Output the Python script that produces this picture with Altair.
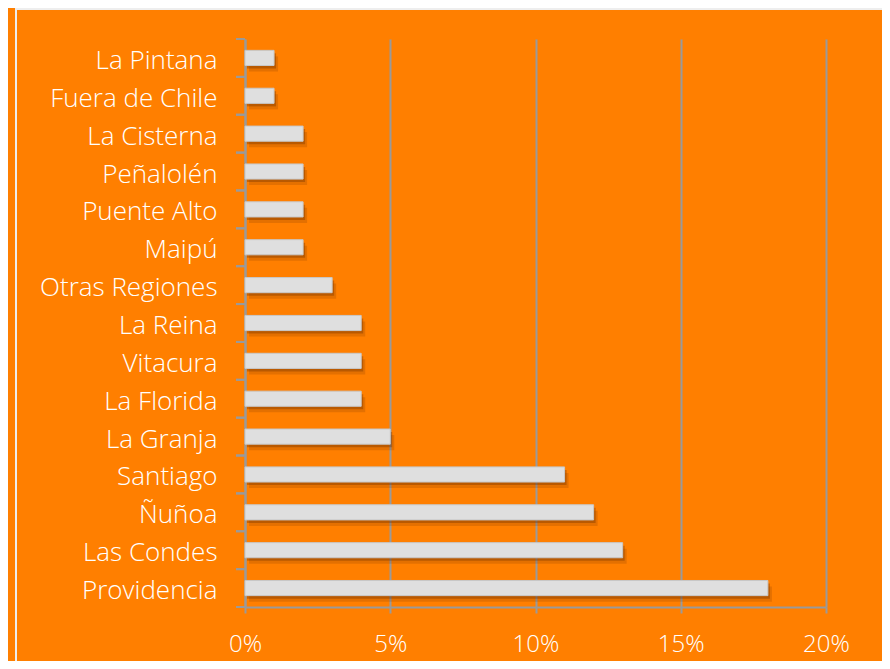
import altair as alt
import pandas as pd

categories = ["La Pintana", "Fuera de Chile", "La Cisterna", "Peñalolén", "Puente Alto",
              "Maipú", "Otras Regiones", "La Reina", "Vitacura", "La Florida",
              "La Granja", "Santiago", "Ñuñoa", "Las Condes", "Providencia"]
values = [1, 1, 2, 2, 2, 2, 3, 4, 4, 4, 5, 11, 12, 13, 18]
x_ticks = [0, 0.05, 0.10, 0.15, 0.20]

df = pd.DataFrame({"cat": categories, "pct": [v / 100 for v in values]})

FONT = "Open Sans"
GRID = "#9a9a9a"
P_IN = 0.6
STEP = 568 / 15.0
HALF_GAP = STEP * P_IN / 2

yscale = alt.Scale(domain=categories, paddingInner=P_IN, paddingOuter=P_IN / 2)
xscale = alt.Scale(domain=[0, 0.2], nice=False, zero=True)

base = alt.Chart(df)

xaxis = alt.Axis(values=x_ticks, format=".0%", title=None, grid=True, gridColor=GRID,
                 gridWidth=2, domainColor=GRID, domainWidth=2, tickColor=GRID, tickWidth=2,
                 tickSize=6, labelPadding=19, labelFont=FONT, labelFontSize=24,
                 labelFontWeight=300, labelColor="white", labelFlush=False)
yaxis = alt.Axis(title=None, grid=False, domainColor=GRID, domainWidth=2, ticks=False,
                 labelPadding=28, labelFont=FONT, labelFontSize=26, labelFontWeight=300,
                 labelColor="white", labelLimit=300, labelOffset=3)

shadow2 = base.mark_bar(color="#6b2f00", opacity=0.18, xOffset=4, x2Offset=4,
                        yOffset=6, y2Offset=6).encode(
    x=alt.X("pct:Q", scale=xscale, axis=xaxis),
    y=alt.Y("cat:N", scale=yscale, axis=yaxis, sort=categories),
)
shadow1 = base.mark_bar(color="#6b2f00", opacity=0.35, xOffset=2, x2Offset=2,
                        yOffset=3, y2Offset=3).encode(
    x=alt.X("pct:Q", scale=xscale),
    y=alt.Y("cat:N", scale=yscale, sort=categories),
)
bars = base.mark_bar(color="#dfdfdf", stroke="#c8c8c8", strokeWidth=1).encode(
    x=alt.X("pct:Q", scale=xscale),
    y=alt.Y("cat:N", scale=yscale, sort=categories),
)

ticks_top = base.mark_rule(color=GRID, strokeWidth=2, yOffset=-HALF_GAP).encode(
    y=alt.Y("cat:N", scale=yscale, sort=categories, bandPosition=0),
    x=alt.value(-9), x2=alt.value(0),
)
ticks_bottom = base.mark_rule(color=GRID, strokeWidth=2, yOffset=HALF_GAP).encode(
    y=alt.Y("cat:N", scale=yscale, sort=categories, bandPosition=1),
    x=alt.value(-9), x2=alt.value(0),
)

frame = alt.Chart(pd.DataFrame({"f": [0]})).mark_rect(
    fill=None, stroke="#eeeeee", strokeWidth=2
).encode(x=alt.value(-229), x2=alt.value(640), y=alt.value(-30), y2=alt.value(700))

chart = alt.layer(shadow2, shadow1, bars, ticks_top, ticks_bottom, frame).properties(
    width=581, height=568,
    autosize=alt.AutoSizeParams(type="none"),
    padding={"left": 237, "top": 31, "right": 56, "bottom": 54},
    background="#ff7f00",
).configure_view(stroke=None)

chart.save("out.html", embed_options={"renderer": "svg", "actions": False})
